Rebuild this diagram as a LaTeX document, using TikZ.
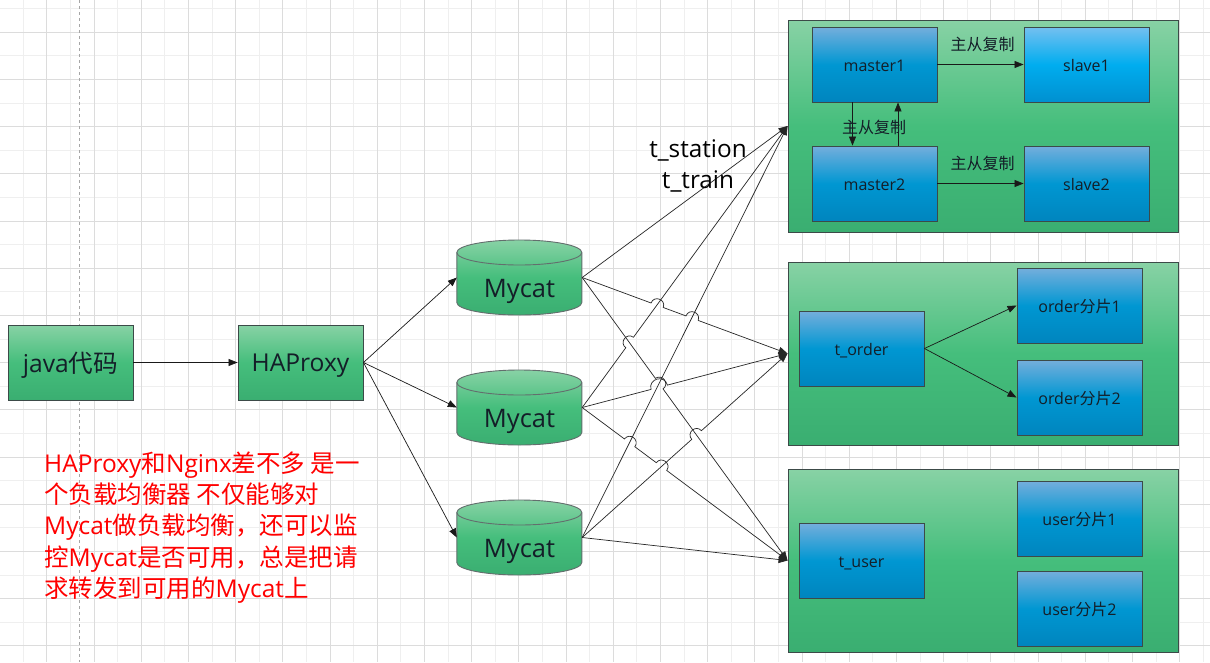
\documentclass[tikz,border=0pt]{standalone}
\usepackage{fontspec}
\setmainfont{Open Sans}
\newfontfamily\cjk{Noto Sans CJK SC}
\usetikzlibrary{calc,arrows.meta}
\newcommand\zh[1]{{\cjk #1}}
\newcommand\jump[4]{-- ($(#1)!#4!(#2)$) to[bend left=90,looseness=1.7] ($(#1)!#4!(#3)$) }
\definecolor{gA}{HTML}{88D2A5}
\definecolor{gB}{HTML}{45BE7C}
\definecolor{gC}{HTML}{3AAE71}
\definecolor{bA}{HTML}{74AEDC}
\definecolor{bB}{HTML}{0097D2}
\definecolor{bC}{HTML}{0085BE}
\definecolor{sA}{HTML}{74C0F0}
\definecolor{sB}{HTML}{00ADEF}
\definecolor{sC}{HTML}{0090D0}
\definecolor{edgec}{HTML}{3C4A48}
\definecolor{gridmaj}{HTML}{DCDCDC}
\definecolor{gridmin}{HTML}{EFEFEF}
\definecolor{inkc}{HTML}{141E28}
\tikzset{
  box/.style={draw=edgec,line width=.9pt,inner sep=0pt,minimum width=125pt,minimum height=75pt,text=inkc},
  greenbox/.style={box,top color=gA,bottom color=gC,middle color=gB,font=\fontsize{24.6}{28}\selectfont},
  container/.style={draw=edgec,line width=.9pt,inner sep=0pt,top color=gA,bottom color=gC,middle color=gB},
  bluebox/.style={box,top color=bA,bottom color=bC,middle color=bB,font=\fontsize{16}{18}\selectfont},
  lightbox/.style={box,top color=sA,bottom color=sC,middle color=sB,font=\fontsize{16}{18}\selectfont},
  cylspot/.style={inner sep=0pt,minimum width=125pt,minimum height=75pt},
  cyllabel/.style={inner sep=0pt,text=inkc,font=\fontsize{25.5}{28}\selectfont},
  smalllabel/.style={inner sep=0pt,text=inkc,font=\fontsize{16}{18}\selectfont},
  biglabel/.style={inner sep=0pt,text=black,font=\fontsize{24.3}{28}\selectfont},
  note/.style={inner sep=0pt,text=red,align=left,font=\fontsize{24.5}{31.3}\selectfont},
  arrowline/.style={draw=black!90,line width=.7pt,-{Triangle[length=9pt,width=7pt]}},
  cross/.style={draw=black!85,line width=.7pt,-{Triangle[length=9pt,width=7pt]}},
  maj/.style={draw=gridmaj,line width=1pt},
  mnr/.style={draw=gridmin,line width=1pt},
  blue text/.style={text height=16pt,text depth=2pt}
}
\newcommand\drawcyl[2]{%
  \node[cylspot] (#1) at (519.5,#2) {};
  \path[draw=edgec!80,line width=.9pt,top color=gA,bottom color=gC,middle color=gB]
    (#1.west) ++(0,-25) arc[start angle=180,end angle=0,x radius=62.5pt,y radius=12.5pt]
    -- ++(0,50) arc[start angle=360,end angle=180,x radius=62.5pt,y radius=12.5pt] -- cycle;
  \path[draw=edgec!80,line width=.9pt]
    (#1.west) ++(0,-25) arc[start angle=180,end angle=360,x radius=62.5pt,y radius=12.5pt];
  \node[cyllabel] (#1t) at (519.5,#2+14) {Mycat};
}
\begin{document}
\begin{tikzpicture}[x=1pt,y=-1pt,>=Triangle]
\useasboundingbox (0,0) rectangle (1210,662);
\fill[white] (0,0) rectangle (1210,662);
% grid
\foreach \k in {0,...,51} {\draw[mnr] ({23.6*\k-0.3},0) -- ({23.6*\k-0.3},662);}
\foreach \k in {0,...,28} {\draw[mnr] (0,{23.6*\k+8.7}) -- (1210,{23.6*\k+8.7});}
\foreach \k in {-2,...,23} {\draw[maj] ({141.3+47.2*\k},0) -- ({141.3+47.2*\k},662);}
\foreach \k in {-5,...,8} {\draw[maj] (0,{268.3+47.2*\k}) -- (1210,{268.3+47.2*\k});}
\draw[draw=black!35,dashed,line width=.8pt] (79.5,0) -- (79.5,662);
% containers
\node[container,minimum width=390pt,minimum height=212pt] (T1) at (983,126) {};
\node[container,minimum width=390pt,minimum height=183pt] (T2) at (983,353.5) {};
\node[container,minimum width=390pt,minimum height=183pt] (T3) at (983,560.5) {};
% left
\node[greenbox,text height=21pt,text depth=2pt] (java) at (70.5,362.5) {java\zh{代码}};
\node[greenbox,text height=20pt,text depth=2pt] (hap) at (300.5,362.5) {HAProxy};
\drawcyl{M1}{277.5}
\drawcyl{M2}{407.5}
\drawcyl{M3}{537.5}
\draw[arrowline] (java) -- (hap);
\draw[arrowline] (hap.east) -- (M1.west);
\draw[arrowline] (hap.east) -- (M2.west);
\draw[arrowline] (hap.east) -- (M3.west);
% top block
\node[bluebox,blue text] (m1) at (874.5,64.5) {master1};
\node[lightbox,blue text] (s1) at (1086.5,64.5) {slave1};
\node[bluebox,blue text] (m2) at (874.5,183.5) {master2};
\node[bluebox,blue text] (s2) at (1086.5,183.5) {slave2};
\draw[arrowline] (m1) -- (s1);
\draw[arrowline] (m2) -- (s2);
\draw[arrowline] (m1.south -| 852.5,0) -- (m2.north -| 852.5,0);
\draw[arrowline] (m2.north -| 898,0) -- (m1.south -| 898,0);
\node[smalllabel] (l1) at (982.5,44.5) {\zh{主从复制}};
\node[smalllabel] (l2) at (874,127.5) {\zh{主从复制}};
\node[smalllabel] (l3) at (982.5,163.5) {\zh{主从复制}};
% middle block
\node[bluebox,blue text] (to) at (861.5,348.5) {t\_order};
\node[bluebox,blue text] (o1) at (1079.5,305.5) {order\zh{分片}1};
\node[bluebox,blue text] (o2) at (1079.5,397.5) {order\zh{分片}2};
\draw[arrowline] (to.east) -- (o1.west);
\draw[arrowline] (to.east) -- (o2.west);
% bottom block
\node[bluebox,blue text] (tu) at (861.5,560.5) {t\_user};
\node[bluebox,blue text] (u1) at (1079.5,518.5) {user\zh{分片}1};
\node[bluebox,blue text] (u2) at (1079.5,608.5) {user\zh{分片}2};
% crossings
\coordinate (Xbd) at ($(M1.east)!.365!(T2.west)$);
\coordinate (Xbg) at ($(M1.east)!.535!(T2.west)$);
\coordinate (Xcg) at ($(M1.east)!.375!(T3.west)$);
\coordinate (Xdc) at ($(M2.east)!.231!(T1.west)$);
\coordinate (Xeg) at ($(M2.east)!.375!(T2.west)$);
\coordinate (Xfg) at ($(M2.east)!.231!(T3.west)$);
\coordinate (Xfh) at ($(M2.east)!.386!(T3.west)$);
\coordinate (Xhc) at ($(M3.east)!.557!(T2.west)$);
\draw[cross] (M1.east) -- (T1.west);
\draw[cross] (M1.east) \jump{Xbd}{M1.east}{T2.west}{6.5pt} \jump{Xbg}{M1.east}{T2.west}{6.5pt} -- (T2.west);
\draw[cross] (M1.east) \jump{Xcg}{M1.east}{T3.west}{6.5pt} -- (T3.west);
\draw[cross] (M2.east) \jump{Xdc}{M2.east}{T1.west}{6.5pt} -- (T1.west);
\draw[cross] (M2.east) \jump{Xeg}{M2.east}{T2.west}{8.5pt} -- (T2.west);
\draw[cross] (M2.east) \jump{Xfg}{M2.east}{T3.west}{6.5pt} \jump{Xfh}{M2.east}{T3.west}{6.5pt} -- (T3.west);
\draw[cross] (M3.east) -- (T1.west);
\draw[cross] (M3.east) \jump{Xhc}{M3.east}{T2.west}{6.5pt} -- (T2.west);
\draw[cross] (M3.east) -- (T3.west);
% texts
\node[biglabel] (st) at (698,150) {t\_station};
\node[biglabel] (tt) at (698,181) {t\_train};
\node[note,anchor=north west] (nt) at (44,451.5) {HAProxy\zh{和}Nginx\zh{差不多 是一}\\\zh{个负载均衡器 不仅能够对}\\Mycat\zh{做负载均衡，还可以监}\\\zh{控}Mycat\zh{是否可用，总是把请}\\\zh{求转发到可用的}Mycat\zh{上}};
\end{tikzpicture}
\end{document}
